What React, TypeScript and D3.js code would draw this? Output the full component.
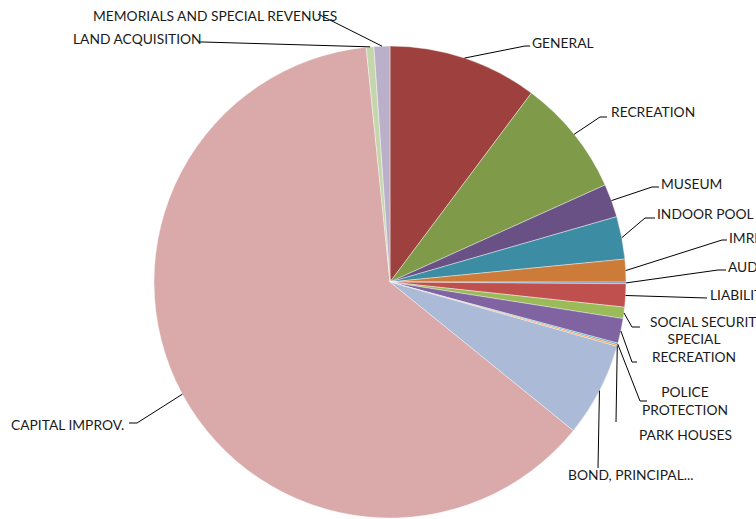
import React from "react";
import * as d3 from "d3";

const categories = [
  "GENERAL",
  "RECREATION",
  "MUSEUM",
  "INDOOR POOL",
  "IMRF",
  "AUDIT",
  "LIABILITY INSURANCE",
  "SOCIAL SECURITY",
  "SPECIAL RECREATION",
  "POLICE PROTECTION",
  "PARK HOUSES",
  "BOND, PRINCIPAL...",
  "CAPITAL IMPROV.",
  "LAND ACQUISITION",
  "MEMORIALS AND SPECIAL REVENUES",
];

const values = [36.8, 28.9, 8.2, 10.5, 5.6, 0.4, 5.7, 2.8, 6.1, 0.4, 0.4, 23.2, 225.1, 1.9, 3.9];

const colors = [
  "#9E413E", "#7F9A48", "#695185", "#3C8DA3", "#CC7B38", "#6D8DB8", "#C0504D",
  "#9BBB59", "#8064A2", "#4BACC6", "#F79646", "#AABAD7", "#D9AAA9", "#C6D6AC", "#BAB0C9",
];

// label layout: text lines, text x/y, anchor, elbow points of leader line
type Lbl = { lines: string[]; x: number; y: number; anchor: string; pts: [number, number][] };
const labelLayout: Lbl[] = [
  { lines: ["GENERAL"], x: 532, y: 42, anchor: "start", pts: [[525, 46], [530, 46]] },
  { lines: ["RECREATION"], x: 611, y: 111, anchor: "start", pts: [[600, 117], [607, 117]] },
  { lines: ["MUSEUM"], x: 661, y: 183, anchor: "start", pts: [[652, 187], [659, 187]] },
  { lines: ["INDOOR POOL"], x: 657, y: 213, anchor: "start", pts: [[645, 218], [655, 218]] },
  { lines: ["IMRF"], x: 729, y: 237, anchor: "start", pts: [[722, 240], [727, 240]] },
  { lines: ["AUDIT"], x: 728, y: 266, anchor: "start", pts: [[718, 270], [726, 270]] },
  { lines: ["LIABILITY INSURANCE"], x: 710, y: 294, anchor: "start", pts: [[707, 298]] },
  { lines: ["SOCIAL SECURITY"], x: 650, y: 321, anchor: "start", pts: [[632, 327], [640, 327]] },
  { lines: ["SPECIAL", "RECREATION"], x: 694, y: 338, anchor: "middle", pts: [[632, 362], [637, 362]] },
  { lines: ["POLICE", "PROTECTION"], x: 685, y: 391, anchor: "middle", pts: [[640, 401], [647, 401]] },
  { lines: ["PARK HOUSES"], x: 639, y: 434, anchor: "start", pts: [[616, 422]] },
  { lines: ["BOND, PRINCIPAL..."], x: 568, y: 474, anchor: "start", pts: [[598, 468]] },
  { lines: ["CAPITAL IMPROV."], x: 11, y: 424, anchor: "start", pts: [[137, 423], [129, 423]] },
  { lines: ["LAND ACQUISITION"], x: 73, y: 38, anchor: "start", pts: [[203, 42], [199, 42]] },
  { lines: ["MEMORIALS AND SPECIAL REVENUES"], x: 93, y: 15, anchor: "start", pts: [[318, 14]] },
];

const W = 756;
const H = 519;
const cx = 390;
const cy = 282;
const R = 236;

export default function App() {
  const data = categories.map((c, i) => ({ name: c, value: values[i], color: colors[i] }));
  const pie = d3.pie<any>().value((d) => d.value).sort(null);
  const arcs = pie(data);
  const arc = d3.arc<any>().innerRadius(0).outerRadius(R);
  const edge = d3.arc<any>().innerRadius(R).outerRadius(R);
  const line = d3.line();

  return (
    <svg
      width={W}
      height={H}
      style={{ position: "absolute", left: 0, top: 0, background: "#fff" }}
      fontFamily="Lato, Carlito, sans-serif"
      fontSize={13.8}
    >
      <g transform={`translate(${cx},${cy})`}>
        {arcs.map((a, i) => (
          <path key={i} d={arc(a) as string} fill={a.data.color} stroke="#fff" strokeWidth={0.4} />
        ))}
      </g>
      {arcs.map((a, i) => {
        const [ex, ey] = edge.centroid(a);
        const L = labelLayout[i];
        const pts: [number, number][] = [[cx + ex, cy + ey], ...L.pts];
        return (
          <g key={i}>
            <path d={line(pts) as string} fill="none" stroke="#000" strokeWidth={1} />
            {L.lines.map((t, j) => (
              <text
                key={j}
                x={L.x}
                y={L.y + j * 18}
                textAnchor={L.anchor}
                dominantBaseline="central"
                fill="#1a1a1a"
              >
                {t}
              </text>
            ))}
          </g>
        );
      })}
    </svg>
  );
}
